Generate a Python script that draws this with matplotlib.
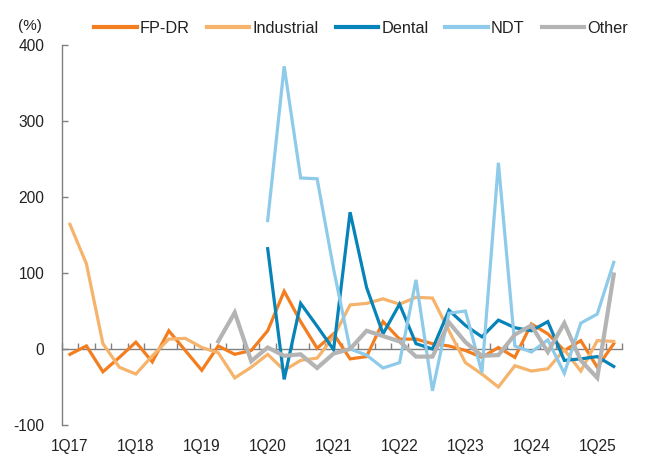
import matplotlib
matplotlib.use('Agg')
import matplotlib.pyplot as plt
import numpy as np

plt.rcParams['font.family'] = ['Liberation Sans', 'DejaVu Sans']
plt.rcParams['axes.unicode_minus'] = False

# quarters 1Q17 .. 2Q25
quarters = [f'{q}Q{y}' for y in range(17, 26) for q in range(1, 5)][:34]
tick_labels = [f'1Q{y}' for y in range(17, 26)]

fp_dr = [-7, 4, -30, -11, 9, -17, 24, -2, -28, 4, -7, -2,
         24, 76, 36, 1, 20, -13, -10, 36, 13, 13, 7, 4,
         -2, -11, 2, -11, 33, 20, -2, 11, -24, 7]
industrial = [164, 112, 7, -24, -33, -9, 13, 14, 2, -5, -38, -24,
              -7, -28, -15, -12, 16, 58, 60, 66, 59, 68, 67, 24,
              -18, -33, -50, -22, -29, -26, -1, -29, 11, 10]
dental = [None] * 12 + [132, -40, 60, 30, -1, 180, 81, 20, 59, 7, 0, 51,
                        31, 16, 38, 28, 24, 36, -15, -13, -10, -23]
ndt = [None] * 12 + [169, 372, 225, 224, 105, 0, -8, -25, -18, 91, -55, 47,
                     50, -31, 245, 4, -4, 12, -32, 34, 46, 114]
other = [None] * 9 + [10, 48, -16, 2, -9, -7, -25, -6, 0, 24, 17, 10, -10,
                      -10, 35, 9, -9, -8, 19, 31, -4, 34, -15, -38, 98]

series = [('FP-DR', fp_dr, '#F37E20', 2.3),
          ('Industrial', industrial, '#F5B36B', 2.3),
          ('Dental', dental, '#0683B8', 2.3),
          ('NDT', ndt, '#8ECAE9', 2.3),
          ('Other', other, '#B4B4B4', 3.0)]

fig = plt.figure(figsize=(6.53, 4.61), dpi=100)
ax = fig.add_axes([0.0945, 0.0781, 0.858, 0.8243])

x = np.arange(len(quarters))
for name, vals, col, lw in series:
    y = np.array([np.nan if v is None else v for v in vals], dtype=float)
    ax.plot(x, y, color=col, lw=lw, label=name, solid_joinstyle='miter')

ax.set_xlim(-0.5, len(quarters) - 0.5)
ax.set_ylim(-100, 400)
ax.set_yticks([-100, 0, 100, 200, 300, 400])

axis_col = '#808080'
for s in ['top', 'right', 'bottom']:
    ax.spines[s].set_visible(False)
ax.spines['left'].set_color(axis_col)
ax.spines['left'].set_linewidth(1.0)
ax.tick_params(axis='y', direction='in', length=4, width=1.0, color=axis_col,
               pad=12.5, labelsize=11.2, labelcolor='#222222')

# labels at the bottom, one per year
ax.set_xticks([quarters.index(t) for t in tick_labels])
ax.set_xticklabels(tick_labels)
ax.tick_params(axis='x', length=0, pad=10, labelsize=11.2, labelcolor='#222222')

# zero line with quarter ticks
sec = ax.secondary_xaxis(0.2)
sec.set_xticks(np.arange(len(quarters) + 1) - 0.5)
sec.tick_params(axis='x', direction='in', length=4, width=1.0, color=axis_col,
                labelbottom=False)
sec.spines['bottom'].set_color(axis_col)
sec.spines['bottom'].set_linewidth(1.0)

fig.text(0.046, 0.943, '(%)', ha='center', va='center', fontsize=11,
         color='#222222')

leg = fig.legend(loc='center', bbox_to_anchor=(0.553, 0.939), ncol=5,
                 frameon=False, handlelength=2.6, handletextpad=0.2,
                 columnspacing=1.05, prop={'size': 11.7})
for t in leg.get_texts():
    t.set_color('#222222')
for h in leg.get_lines():
    h.set_linewidth(3.0)

fig.savefig('out.png', dpi=100)
